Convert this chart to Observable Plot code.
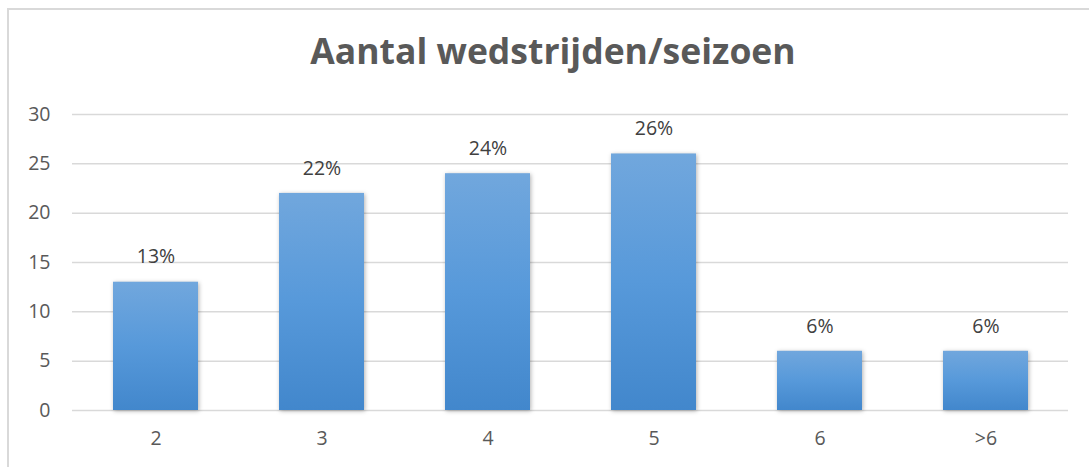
<!DOCTYPE html>
<html>
<head>
<meta charset="utf-8">
<script src="https://cdn.jsdelivr.net/npm/d3@7"></script>
<script src="https://cdn.jsdelivr.net/npm/@observablehq/plot@0.6"></script>
<style>
  html, body { margin: 0; padding: 0; background: #fff; width: 1089px; height: 467px; overflow: hidden; }
  #wrap { position: relative; width: 1089px; height: 467px; font-family: "Open Sans", sans-serif; }
  #frame { position: absolute; left: 7px; top: 8px; width: 1200px; height: 600px; border: 2px solid #d9d9d9; box-sizing: border-box; }
  #title { position: absolute; left: 0; width: 1106px; top: 26px; text-align: center; font-weight: 700; font-size: 35.5px; color: #595959; line-height: 48px; }
  #chart { position: absolute; left: 0; top: 95px; }
  #chart svg text { font-size: 19.5px; font-family: "Open Sans", sans-serif; }
</style>
</head>
<body>
<div id="wrap">
  <div id="frame"></div>
  <div id="title">Aantal wedstrijden/seizoen</div>
  <div id="chart"></div>
</div>
<script>
const categories = ["2", "3", "4", "5", "6", ">6"];
const values = [13, 22, 24, 26, 6, 6];
const labels = ["13%", "22%", "24%", "26%", "6%", "6%"];
const yTicks = [0, 5, 10, 15, 20, 25, 30];

const data = categories.map((c, i) => ({cat: c, value: values[i], label: labels[i]}));

const chart = Plot.plot({
  width: 1089,
  height: 372,
  marginTop: 19,
  marginBottom: 57,
  marginLeft: 72,
  marginRight: 21,
  style: {fontFamily: "Open Sans, sans-serif", fontSize: "19.5px", color: "#595959", background: "transparent", overflow: "visible"},
  x: {domain: categories, paddingInner: 0.49, paddingOuter: 0.245, label: null, tickSize: 0, tickPadding: 21},
  y: {domain: [0, 30], ticks: yTicks, label: null, tickSize: 0, tickPadding: 22},
  marks: [
    Plot.gridY(yTicks, {stroke: "#d9d9d9", strokeOpacity: 1, strokeWidth: 1.5}),
    Plot.barY(data, {x: "cat", y: "value", fill: "url(#barGrad)"}),
    Plot.text(data, {x: "cat", y: "value", text: "label", dy: -25, fill: "#404040", fontSize: 19.5})
  ]
});

const svg = d3.select(chart);
const defs = svg.insert("defs", ":first-child");
const g = defs.append("linearGradient").attr("id", "barGrad").attr("x1", 0).attr("y1", 0).attr("x2", 0).attr("y2", 1);
g.append("stop").attr("offset", "0%").attr("stop-color", "#71a7dd");
g.append("stop").attr("offset", "50%").attr("stop-color", "#5799da");
g.append("stop").attr("offset", "100%").attr("stop-color", "#4287cc");
svg.selectAll("rect").style("filter", "drop-shadow(1px 1px 2px rgba(0,0,0,0.3))");

document.getElementById("chart").appendChild(chart);
</script>
</body>
</html>
